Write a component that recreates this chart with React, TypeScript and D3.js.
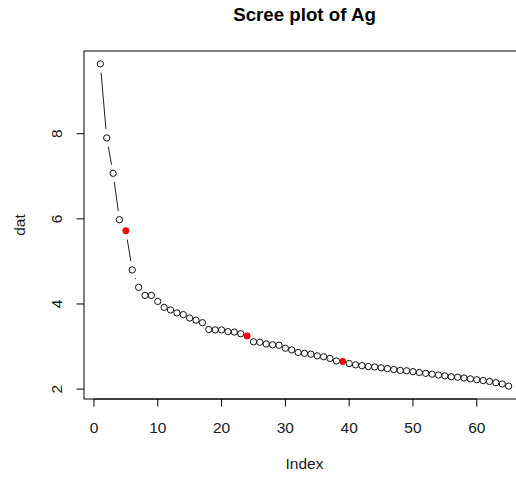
import React from "react";
import * as d3 from "d3";

const values: number[] = [
  9.64, 7.9, 7.07, 5.98, 5.72, 4.8, 4.39, 4.2, 4.2, 4.06,
  3.92, 3.86, 3.79, 3.75, 3.67, 3.62, 3.56, 3.4, 3.39, 3.39,
  3.35, 3.34, 3.3, 3.25, 3.11, 3.1, 3.06, 3.04, 3.03, 2.96,
  2.92, 2.86, 2.84, 2.82, 2.78, 2.76, 2.72, 2.66, 2.65, 2.6,
  2.57, 2.55, 2.53, 2.52, 2.5, 2.48, 2.46, 2.44, 2.43, 2.41,
  2.39, 2.37, 2.35, 2.33, 2.31, 2.29, 2.28, 2.26, 2.24, 2.22,
  2.2, 2.18, 2.15, 2.12, 2.07,
];
const highlighted: number[] = [5, 24, 39];
const xTicks: number[] = [0, 10, 20, 30, 40, 50, 60];
const yTicks: number[] = [2, 4, 6, 8];
const title = "Scree plot of Ag";
const xLabel = "Index";
const yLabel = "dat";

export default function App() {
  const W = 516, H = 479;
  const left = 84, right = 525, top = 51, bottom = 399;
  const n = values.length;
  const xr = n - 1;
  const x = d3.scaleLinear().domain([1 - 0.04 * xr, n + 0.04 * xr]).range([left, right]);
  const ymin = d3.min(values)!, ymax = d3.max(values)!;
  const yr = ymax - ymin;
  const y = d3.scaleLinear().domain([ymin - 0.04 * yr, ymax + 0.04 * yr]).range([bottom, top]);
  const pts = values.map((v, i) => ({ i: i + 1, px: x(i + 1), py: y(v) }));
  const gap = 8.8;
  const segs: { x1: number; y1: number; x2: number; y2: number }[] = [];
  for (let k = 0; k < pts.length - 1; k++) {
    const a = pts[k], b = pts[k + 1];
    const dx = b.px - a.px, dy = b.py - a.py;
    const d = Math.sqrt(dx * dx + dy * dy);
    if (d > 2 * gap) {
      const ux = dx / d, uy = dy / d;
      segs.push({ x1: a.px + ux * gap, y1: a.py + uy * gap, x2: b.px - ux * gap, y2: b.py - uy * gap });
    }
  }
  const font = "'Liberation Sans', Arial, sans-serif";
  const fs = 15.5;
  const ink = "#1a1a1a";
  return (
    <svg width={W} height={H} style={{ position: "absolute", left: 0, top: 0, background: "#fff" }} fontFamily={font}>
      <rect x={0} y={0} width={W} height={H} fill="#fff" />
      <text x={(left + right) / 2} y={20.5} textAnchor="middle" fontWeight="bold" fontSize={18.7} fill="#000">{title}</text>
      <rect x={left} y={top} width={right - left} height={bottom - top} fill="none" stroke="#000" strokeWidth={1} />
      <line x1={x(xTicks[0])} x2={x(xTicks[xTicks.length - 1])} y1={bottom} y2={bottom} stroke="#000" />
      {xTicks.map((t) => (
        <g key={"xt" + t}>
          <line x1={x(t)} x2={x(t)} y1={bottom} y2={bottom + 7.5} stroke="#000" />
          <text x={x(t)} y={433} textAnchor="middle" fontSize={fs} fill={ink}>{t}</text>
        </g>
      ))}
      {yTicks.map((t) => (
        <g key={"yt" + t}>
          <line x1={left - 7.5} x2={left} y1={y(t)} y2={y(t)} stroke="#000" />
          <text transform={`translate(61.5,${y(t)}) rotate(-90)`} textAnchor="middle" fontSize={fs} fill={ink}>{t}</text>
        </g>
      ))}
      <text x={(left + right) / 2} y={469} textAnchor="middle" fontSize={fs} fill={ink}>{xLabel}</text>
      <text transform={`translate(25,${(top + bottom) / 2}) rotate(-90)`} textAnchor="middle" fontSize={fs} fill={ink}>{yLabel}</text>
      {segs.map((s, k) => (
        <line key={"s" + k} x1={s.x1} y1={s.y1} x2={s.x2} y2={s.y2} stroke="#222" strokeWidth={1} />
      ))}
      {pts.map((p) =>
        highlighted.includes(p.i) ? (
          <circle key={"p" + p.i} cx={p.px} cy={p.py} r={3.4} fill="red" stroke="none" />
        ) : (
          <circle key={"p" + p.i} cx={p.px} cy={p.py} r={3.15} fill="none" stroke="#111" strokeWidth={1} />
        )
      )}
    </svg>
  );
}
